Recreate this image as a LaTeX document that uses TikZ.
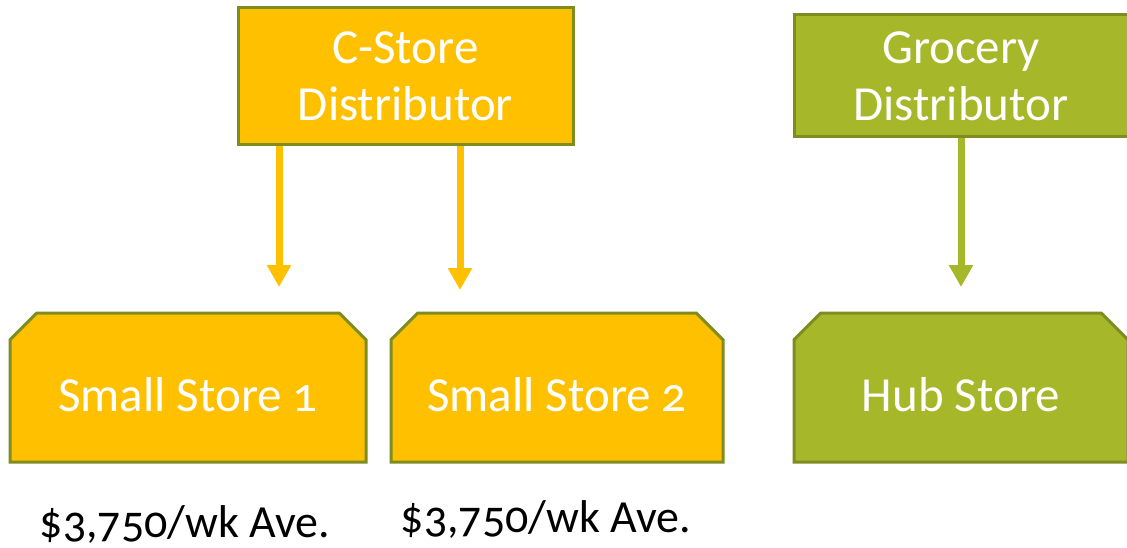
\documentclass[tikz,border=0pt]{standalone}
\usepackage{fontspec}
\setmainfont{Carlito}[Numbers=OldStyle]
\usetikzlibrary{positioning,arrows.meta,shapes.misc}
\definecolor{cstore}{RGB}{255,192,0}
\definecolor{grocery}{RGB}{166,184,41}
\definecolor{rim}{RGB}{126,140,32}

\begin{document}
\begin{tikzpicture}[
    x=1pt,
    y=-1pt,
    >={Triangle[width=23pt,length=22pt]}
]

\tikzstyle{dist}=[
    rectangle,
    draw=rim,
    line width=3pt,
    text=white,
    inner sep=0pt,
    align=center,
    font=\fontsize{49}{57}\selectfont
]

\tikzstyle{store}=[
    chamfered rectangle,
    chamfered rectangle corners={north east,north west},
    chamfered rectangle xsep=24pt,
    draw=rim,
    line width=3pt,
    text=white,
    inner sep=0pt,
    text height=47pt,
    text depth=0pt,
    minimum height=149pt,
    font=\fontsize{49}{57}\selectfont
]

\tikzstyle{feed}=[->, line width=7pt]

\useasboundingbox (0,0) rectangle (1127,548);

\node[dist, fill=cstore, minimum width=335pt, minimum height=137pt] (cs) at (405.5,76.5) {C-Store\\Distributor};
\node[dist, fill=grocery, minimum width=334pt, minimum height=122pt] (gd) at (961,76) {Grocery\\Distributor};

\node[store, fill=cstore, minimum width=356pt] (s1) at (188,387.5) {Small Store 1};
\node[store, fill=cstore, minimum width=332pt] (s2) at (557,387.5) {Small Store 2};
\node[store, fill=grocery, minimum width=334pt] (hub) at (961,387.5) {Hub Store};

\coordinate (t1) at (279,287);
\coordinate (t2) at (460,290);
\coordinate (t3) at (961,287);

\draw[feed, draw=cstore] (cs.south -| t1) -- (t1);
\draw[feed, draw=cstore] (cs.south -| t2) -- (t2);
\draw[feed, draw=grocery] (gd.south) -- (t3);

\node[font=\fontsize{46}{50}\selectfont] (w1) at (185,524) {\$3,750/wk Ave.};
\node[font=\fontsize{46}{50}\selectfont] (w2) at (546,519) {\$3,750/wk Ave.};

\end{tikzpicture}
\end{document}
